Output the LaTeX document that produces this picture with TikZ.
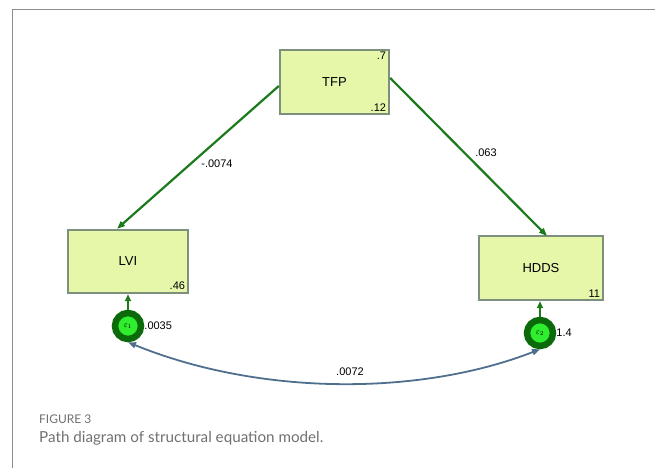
\documentclass[tikz,border=0pt]{standalone}
\usepackage{fontspec}
\setmainfont{Liberation Sans}
\newfontfamily\capfont{Lato}
\usetikzlibrary{arrows.meta}
\definecolor{boxfill}{HTML}{E6F7AA}
\definecolor{boxline}{HTML}{7D8F7D}
\definecolor{pathgreen}{HTML}{1B7A1B}
\definecolor{errdark}{HTML}{0B6B0B}
\definecolor{errlight}{HTML}{2EEE2E}
\definecolor{covblue}{HTML}{4F6F8F}
\definecolor{capgray}{HTML}{707070}
\begin{document}
\begin{tikzpicture}[x=1pt,y=-1pt,
  varbox/.style={draw=boxline,line width=2.4pt,fill=boxfill,minimum width=#1,inner sep=0pt,font=\fontsize{13}{15}\selectfont},
  varbox/.default=110pt,
  errc/.style={circle,draw=errdark,line width=6.5pt,fill=errlight,minimum size=26pt,inner sep=0pt,font=\fontsize{8}{9}\selectfont},
  pth/.style={draw=pathgreen,line width=2.2pt,-{Triangle[length=8pt,width=6pt]}},
  lab/.style={font=\fontsize{11}{13}\selectfont,inner sep=1pt},
  cov/.style={draw=covblue,line width=1.8pt,{Triangle[length=8pt,width=6pt]}-{Triangle[length=8pt,width=6pt]}}]
\useasboundingbox (0,0) rectangle (655,468);
\draw[capgray!80,line width=1pt] (12,468) -- (12,10) -- (655,10);
% boxes
\node[varbox=109pt,minimum height=64pt] (tfp) at (334.5,82) {TFP};
\node[varbox=120pt,minimum height=63pt] (lvi) at (128,261.5) {LVI};
\node[varbox=124pt,minimum height=64pt] (hdds) at (541,268) {HDDS};
% corner values
\node[lab,anchor=north east] (tfpv) at ([xshift=-3pt,yshift=-2pt]tfp.north east) {.7};
\node[lab,anchor=south east] (tfpm) at ([xshift=-3pt,yshift=3pt]tfp.south east) {.12};
\node[lab,anchor=south east] (lvim) at ([xshift=-3pt,yshift=3pt]lvi.south east) {.46};
\node[lab,anchor=south east] (hddsm) at ([xshift=-3pt,yshift=3pt]hdds.south east) {11};
% errors
\node[errc] (e1) at (128,326) {$\varepsilon_1$};
\node[errc] (e2) at (540,333) {$\varepsilon_2$};
\node[lab,anchor=west] (e1v) at ([xshift=-1pt]e1.east) {.0035};
\node[lab,anchor=west] (e2v) at ([xshift=-1pt]e2.east) {1.4};
% paths
\draw[pth] (tfp.west) ++(0,4) coordinate (tl) (tl) -- (lvi.north -| 117,0);
\draw[pth] ([yshift=4pt]tfp.east) -- (547,236);
\draw[draw=pathgreen,line width=2.2pt,-{Triangle[length=7pt,width=6pt]}] (e1.north) -- (lvi.south);
\draw[draw=pathgreen,line width=2.2pt,-{Triangle[length=7pt,width=6pt]}] (e2.north) -- (e2.north |- hdds.south);
\node[lab] (l1) at (217,164) {-.0074};
\node[lab] (l2) at (486,153) {.063};
% covariance
\draw[cov] (e1.south) .. controls (260,396) and (420,396) .. (e2.south);
\node[lab] (l3) at (350,372) {.0072};
% caption
\node[anchor=west,text=capgray,font=\capfont\fontsize{12}{14}\selectfont,inner sep=0pt] (fig) at (39,419) {FIGURE 3};
\node[anchor=west,text=capgray,font=\capfont\fontsize{15.2}{18}\selectfont,inner sep=0pt] (capt) at (39,438) {Path diagram of structural equation model.};
\end{tikzpicture}
\end{document}
